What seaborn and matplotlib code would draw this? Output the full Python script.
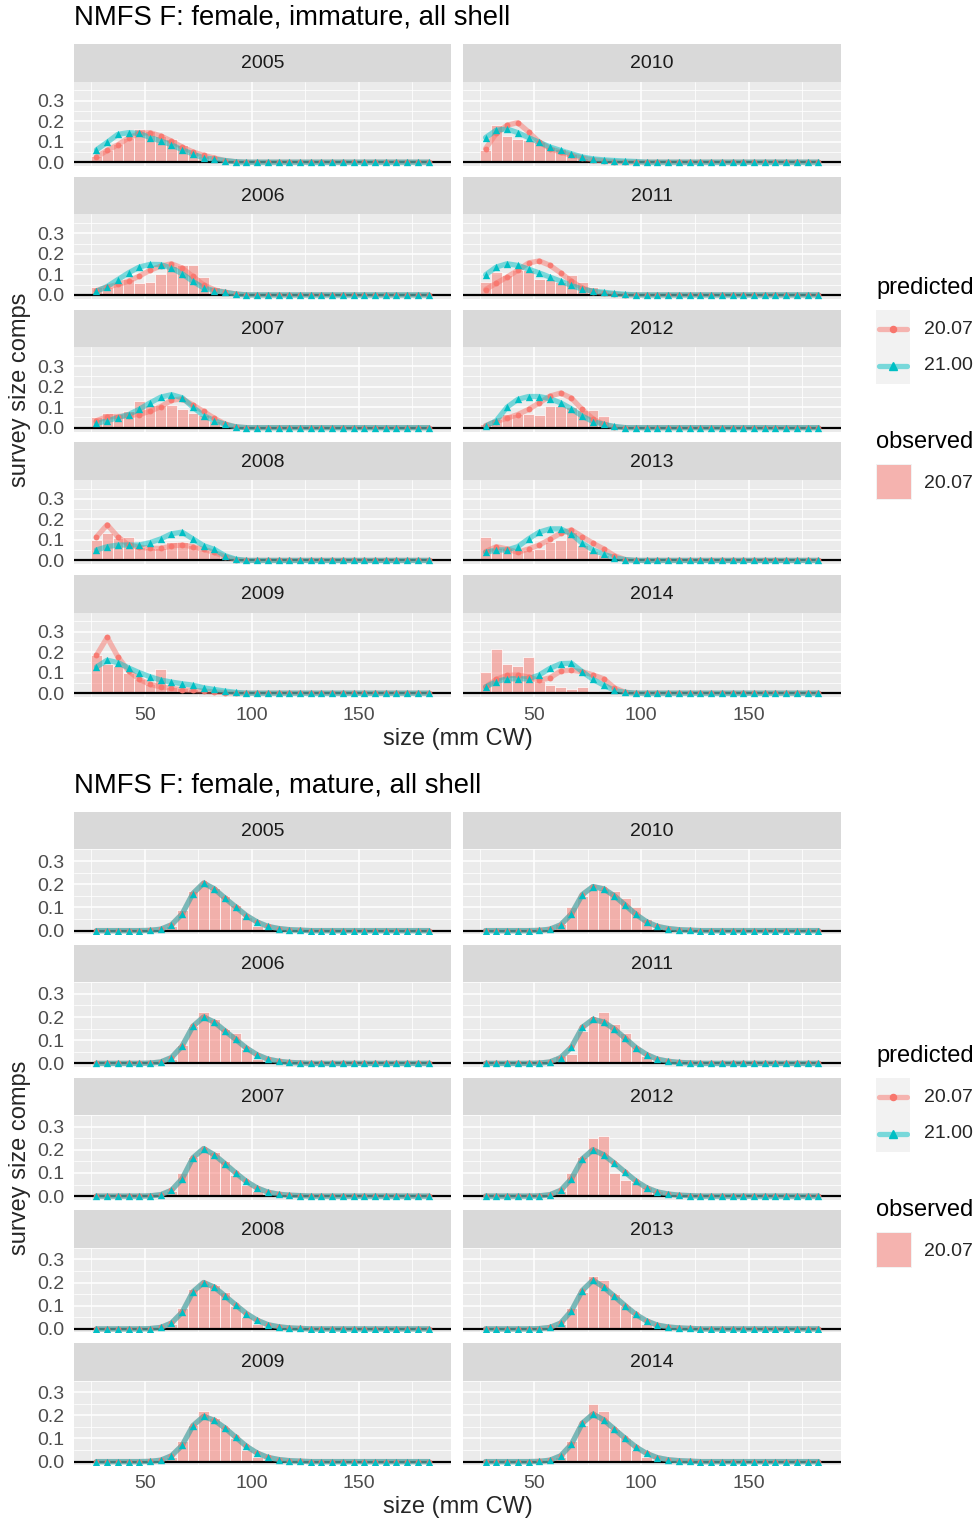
import numpy as np
import pandas as pd
import matplotlib
matplotlib.use("Agg")
import matplotlib.pyplot as plt
import seaborn as sns
from matplotlib.patches import Rectangle
from matplotlib.lines import Line2D

sns.set_theme(style="white")
plt.rcParams["font.family"] = ["Liberation Sans", "DejaVu Sans"]

# ---------------- data ----------------
sizes = [27.5, 32.5, 37.5, 42.5, 47.5, 52.5, 57.5, 62.5, 67.5, 72.5, 77.5, 82.5,
         87.5, 92.5, 97.5, 102.5, 107.5, 112.5, 117.5, 122.5, 127.5, 132.5, 137.5,
         142.5, 147.5, 152.5, 157.5, 162.5, 167.5, 172.5, 177.5, 182.5]
years_left = [2005, 2006, 2007, 2008, 2009]
years_right = [2010, 2011, 2012, 2013, 2014]
cases = ["20.07", "21.00"]
xticks = [50, 100, 150]
yticks = [0.0, 0.1, 0.2, 0.3]
ytick_labels = ["0.0", "0.1", "0.2", "0.3"]


def pad(v):
    return list(v) + [0.0] * (len(sizes) - len(v))


# immature: observed (20.07), predicted 20.07, predicted 21.00
imm_obs = {
    2005: pad([0.028, 0.06, 0.09, 0.12, 0.16, 0.153, 0.13, 0.115, 0.082, 0.05, 0.028, 0.016, 0.005]),
    2006: pad([0.04, 0.04, 0.06, 0.08, 0.06, 0.062, 0.103, 0.14, 0.144, 0.144, 0.087, 0.038, 0.012, 0.004]),
    2007: pad([0.054, 0.072, 0.067, 0.079, 0.128, 0.111, 0.111, 0.111, 0.089, 0.07, 0.06, 0.034, 0.01, 0.003]),
    2008: pad([0.1, 0.133, 0.108, 0.116, 0.067, 0.059, 0.059, 0.092, 0.092, 0.075, 0.05, 0.034, 0.015, 0.003]),
    2009: pad([0.185, 0.144, 0.133, 0.1, 0.067, 0.046, 0.116, 0.03, 0.025, 0.02, 0.01, 0.005]),
    2010: pad([0.057, 0.18, 0.128, 0.115, 0.107, 0.1, 0.074, 0.066, 0.04, 0.02, 0.01, 0.005]),
    2011: pad([0.062, 0.111, 0.095, 0.12, 0.12, 0.079, 0.079, 0.062, 0.095, 0.062, 0.041, 0.015, 0.005]),
    2012: pad([0.016, 0.043, 0.067, 0.067, 0.067, 0.064, 0.108, 0.108, 0.1, 0.084, 0.084, 0.059, 0.01, 0.003]),
    2013: pad([0.116, 0.059, 0.059, 0.051, 0.051, 0.056, 0.092, 0.1, 0.141, 0.075, 0.046, 0.025, 0.01, 0.003]),
    2014: pad([0.103, 0.218, 0.144, 0.133, 0.177, 0.059, 0.039, 0.03, 0.018, 0.03, 0.01, 0.003]),
}
imm_p2007 = {
    2005: pad([0.025, 0.057, 0.085, 0.118, 0.14, 0.144, 0.128, 0.103, 0.074, 0.05, 0.033, 0.02, 0.008, 0.002]),
    2006: pad([0.021, 0.038, 0.051, 0.067, 0.092, 0.12, 0.141, 0.152, 0.131, 0.09, 0.049, 0.025, 0.013, 0.005]),
    2007: pad([0.034, 0.054, 0.054, 0.059, 0.064, 0.08, 0.103, 0.133, 0.141, 0.111, 0.079, 0.046, 0.018, 0.004]),
    2008: pad([0.115, 0.174, 0.115, 0.075, 0.064, 0.059, 0.059, 0.07, 0.075, 0.067, 0.054, 0.039, 0.018, 0.004]),
    2009: pad([0.185, 0.272, 0.177, 0.108, 0.067, 0.043, 0.03, 0.023, 0.016, 0.013, 0.01, 0.006, 0.003]),
    2010: pad([0.066, 0.14, 0.18, 0.193, 0.148, 0.098, 0.066, 0.049, 0.033, 0.02, 0.011, 0.006, 0.002]),
    2011: pad([0.026, 0.057, 0.087, 0.12, 0.156, 0.166, 0.144, 0.107, 0.067, 0.034, 0.016, 0.008, 0.004]),
    2012: pad([0.01, 0.03, 0.046, 0.064, 0.089, 0.121, 0.154, 0.169, 0.144, 0.089, 0.043, 0.016, 0.004]),
    2013: pad([0.043, 0.067, 0.056, 0.039, 0.056, 0.075, 0.103, 0.133, 0.149, 0.116, 0.084, 0.056, 0.023, 0.004]),
    2014: pad([0.03, 0.067, 0.087, 0.089, 0.079, 0.062, 0.075, 0.108, 0.111, 0.105, 0.089, 0.07, 0.026, 0.004]),
}
imm_p2100 = {
    2005: pad([0.06, 0.097, 0.136, 0.144, 0.14, 0.12, 0.103, 0.085, 0.06, 0.04, 0.02, 0.015, 0.008, 0.002]),
    2006: pad([0.018, 0.041, 0.075, 0.108, 0.136, 0.149, 0.148, 0.131, 0.103, 0.066, 0.034, 0.021, 0.013, 0.004]),
    2007: pad([0.021, 0.033, 0.049, 0.064, 0.09, 0.121, 0.149, 0.161, 0.146, 0.1, 0.059, 0.034, 0.016, 0.004]),
    2008: pad([0.051, 0.067, 0.075, 0.075, 0.075, 0.087, 0.105, 0.13, 0.138, 0.105, 0.072, 0.054, 0.023, 0.006]),
    2009: pad([0.128, 0.161, 0.149, 0.123, 0.1, 0.08, 0.064, 0.054, 0.046, 0.039, 0.026, 0.018, 0.01, 0.004]),
    2010: pad([0.12, 0.156, 0.162, 0.144, 0.12, 0.097, 0.074, 0.057, 0.041, 0.025, 0.016, 0.011, 0.008, 0.005, 0.003]),
    2011: pad([0.098, 0.136, 0.152, 0.144, 0.126, 0.107, 0.087, 0.067, 0.046, 0.028, 0.018, 0.013, 0.007, 0.003]),
    2012: pad([0.007, 0.034, 0.1, 0.138, 0.152, 0.152, 0.141, 0.121, 0.092, 0.056, 0.03, 0.016, 0.006]),
    2013: pad([0.039, 0.051, 0.051, 0.067, 0.105, 0.138, 0.154, 0.154, 0.128, 0.084, 0.051, 0.03, 0.013, 0.004]),
    2014: pad([0.03, 0.056, 0.07, 0.07, 0.07, 0.089, 0.121, 0.144, 0.146, 0.105, 0.067, 0.039, 0.013, 0.004]),
}

# mature
mat_obs = {
    2005: pad([0, 0, 0, 0, 0, 0, 0.005, 0.02, 0.09, 0.17, 0.2, 0.185, 0.15, 0.11, 0.06, 0.02, 0.008, 0.003]),
    2006: pad([0, 0, 0, 0, 0, 0, 0.005, 0.02, 0.08, 0.16, 0.22, 0.19, 0.15, 0.13, 0.06, 0.02, 0.008, 0.003]),
    2007: pad([0, 0, 0, 0, 0, 0, 0.005, 0.02, 0.1, 0.17, 0.19, 0.19, 0.15, 0.09, 0.05, 0.02, 0.008, 0.003]),
    2008: pad([0, 0, 0, 0, 0, 0, 0.005, 0.02, 0.09, 0.17, 0.2, 0.19, 0.16, 0.1, 0.05, 0.02, 0.008, 0.003]),
    2009: pad([0, 0, 0, 0, 0, 0, 0.005, 0.02, 0.09, 0.16, 0.22, 0.19, 0.15, 0.1, 0.05, 0.02, 0.008, 0.003]),
    2010: pad([0, 0, 0, 0, 0, 0, 0.005, 0.03, 0.1, 0.15, 0.18, 0.18, 0.17, 0.14, 0.1, 0.05, 0.01, 0.003]),
    2011: pad([0, 0, 0, 0, 0, 0, 0.005, 0.03, 0.04, 0.14, 0.19, 0.22, 0.17, 0.13, 0.07, 0.03, 0.01, 0.003]),
    2012: pad([0, 0, 0, 0, 0, 0, 0.005, 0.02, 0.1, 0.17, 0.25, 0.26, 0.1, 0.07, 0.06, 0.04, 0.02, 0.005]),
    2013: pad([0, 0, 0, 0, 0, 0, 0.005, 0.02, 0.09, 0.16, 0.23, 0.21, 0.15, 0.1, 0.06, 0.02, 0.008, 0.003]),
    2014: pad([0, 0, 0, 0, 0, 0, 0.005, 0.02, 0.09, 0.16, 0.25, 0.22, 0.14, 0.1, 0.05, 0.02, 0.008, 0.003]),
}
mat_p2007 = {
    2005: pad([0, 0, 0, 0, 0, 0.001, 0.006, 0.025, 0.072, 0.16, 0.205, 0.18, 0.14, 0.102, 0.065, 0.037, 0.018, 0.009, 0.004, 0.002]),
    2006: pad([0, 0, 0, 0, 0, 0.001, 0.006, 0.025, 0.075, 0.16, 0.2, 0.178, 0.14, 0.103, 0.066, 0.037, 0.018, 0.009, 0.004, 0.002]),
    2007: pad([0, 0, 0, 0, 0, 0.001, 0.006, 0.025, 0.075, 0.165, 0.205, 0.178, 0.14, 0.1, 0.063, 0.035, 0.017, 0.008, 0.004, 0.002]),
    2008: pad([0, 0, 0, 0, 0, 0.001, 0.006, 0.025, 0.072, 0.16, 0.2, 0.18, 0.142, 0.103, 0.066, 0.037, 0.018, 0.009, 0.004, 0.002]),
    2009: pad([0, 0, 0, 0, 0, 0.001, 0.006, 0.025, 0.07, 0.155, 0.195, 0.178, 0.145, 0.105, 0.066, 0.037, 0.018, 0.009, 0.004, 0.002]),
    2010: pad([0, 0, 0, 0, 0, 0.001, 0.006, 0.025, 0.072, 0.155, 0.19, 0.18, 0.15, 0.11, 0.07, 0.038, 0.018, 0.009, 0.004, 0.002]),
    2011: pad([0, 0, 0, 0, 0, 0.001, 0.006, 0.025, 0.07, 0.155, 0.19, 0.178, 0.148, 0.108, 0.068, 0.038, 0.018, 0.009, 0.004, 0.002]),
    2012: pad([0, 0, 0, 0, 0, 0.001, 0.006, 0.025, 0.075, 0.16, 0.2, 0.178, 0.142, 0.103, 0.065, 0.036, 0.018, 0.009, 0.004, 0.002]),
    2013: pad([0, 0, 0, 0, 0, 0.001, 0.006, 0.025, 0.078, 0.165, 0.21, 0.18, 0.14, 0.1, 0.062, 0.034, 0.016, 0.008, 0.004, 0.002]),
    2014: pad([0, 0, 0, 0, 0, 0.001, 0.006, 0.025, 0.075, 0.165, 0.205, 0.18, 0.14, 0.1, 0.063, 0.035, 0.017, 0.008, 0.004, 0.002]),
}
mat_p2100 = {y: list(v) for y, v in mat_p2007.items()}

# ---------------- styling ----------------
W, H = 977, 1521
RED = "#F8766D"
TEAL = "#00BFC4"
PANEL_BG = "#EBEBEB"
STRIP_BG = "#D9D9D9"
FS_SMALL = 14
FS_AXIS = 17
FS_TITLE = 19.8
edges = [s - 2.5 for s in sizes] + [sizes[-1] + 2.5]

fig = plt.figure(figsize=(W / 100, H / 100), dpi=100)


def px_axes(x0, y0, x1, y1):
    return fig.add_axes([x0 / W, 1 - y1 / H, (x1 - x0) / W, (y1 - y0) / H])


def draw_panel(ax, obs, p1, p2, ylim, show_x, show_y):
    ax.set_facecolor(PANEL_BG)
    sns.histplot(x=sizes, weights=obs, bins=edges, color=RED, alpha=0.5,
                 edgecolor="white", linewidth=0.5, ax=ax, zorder=2)
    ax.axhline(0, color="black", lw=1.6, zorder=3)
    df = pd.DataFrame({"size": sizes * 2, "val": list(p1) + list(p2),
                       "case": [cases[0]] * len(sizes) + [cases[1]] * len(sizes)})
    sns.lineplot(data=df, x="size", y="val", hue="case", hue_order=cases,
                 palette=[RED, TEAL], linewidth=3.8, alpha=0.5, legend=False,
                 ax=ax, zorder=4)
    sns.scatterplot(x=sizes, y=p1, color=RED, marker="o", s=18, linewidth=0,
                    alpha=0.9, ax=ax, zorder=5)
    sns.scatterplot(x=sizes, y=p2, color=TEAL, marker="^", s=28, linewidth=0,
                    ax=ax, zorder=6)
    ax.set_xlim(17, 193)
    ax.set_ylim(*ylim)
    ax.set_xticks(xticks)
    ax.set_xticks([25, 75, 125, 175], minor=True)
    ax.set_yticks(yticks)
    ax.set_yticks([0.05, 0.15, 0.25, 0.35], minor=True)
    ax.grid(which="major", color="white", lw=1.1, zorder=0)
    ax.grid(which="minor", color="white", lw=0.55, zorder=0)
    ax.set_axisbelow(True)
    for sp in ax.spines.values():
        sp.set_visible(False)
    ax.set_xlabel("")
    ax.set_ylabel("")
    ax.tick_params(which="minor", length=0)
    ax.tick_params(which="major", length=4, width=0.8, color="#333333",
                   labelcolor="#4D4D4D", labelsize=FS_SMALL, pad=3)
    if show_x:
        ax.set_xticklabels([str(t) for t in xticks])
    else:
        ax.tick_params(axis="x", which="major", length=0, labelbottom=False)
    if show_y:
        ax.set_yticklabels(ytick_labels)
    else:
        ax.tick_params(axis="y", which="major", length=0, labelleft=False)


def draw_strip(x0, y0, x1, y1, label):
    sa = px_axes(x0, y0, x1, y1)
    sa.set_facecolor(STRIP_BG)
    sa.set_xticks([])
    sa.set_yticks([])
    for sp in sa.spines.values():
        sp.set_visible(False)
    sa.text(0.5, 0.47, label, ha="center", va="center", fontsize=FS_SMALL,
            color="#1A1A1A", transform=sa.transAxes)


def draw_legend(top):
    fig.text(876 / W, 1 - (top) / H, "predicted", fontsize=FS_AXIS, ha="left",
             va="center", color="black")
    la = px_axes(876, top + 22, 910, top + 96)
    la.set_xlim(0, 1)
    la.set_ylim(0, 1)
    la.axis("off")
    la.add_patch(Rectangle((0, 0), 1, 1, facecolor="#F2F2F2", edgecolor="none",
                           transform=la.transAxes))
    la.add_line(Line2D([0.08, 0.92], [0.75, 0.75], color=RED, lw=3.8, alpha=0.5))
    la.add_line(Line2D([0.5], [0.75], color=RED, marker="o", ms=4.4, lw=0))
    la.add_line(Line2D([0.08, 0.92], [0.25, 0.25], color=TEAL, lw=3.8, alpha=0.5))
    la.add_line(Line2D([0.5], [0.25], color=TEAL, marker="^", ms=5.6, lw=0))
    fig.text(924 / W, 1 - (top + 41) / H, "20.07", fontsize=FS_SMALL, ha="left", va="center")
    fig.text(924 / W, 1 - (top + 78) / H, "21.00", fontsize=FS_SMALL, ha="left", va="center")
    fig.text(876 / W, 1 - (top + 154) / H, "observed", fontsize=FS_AXIS, ha="left",
             va="center", color="black")
    lb = px_axes(876, top + 176, 912, top + 212)
    lb.axis("off")
    lb.add_patch(Rectangle((0, 0), 1, 1, facecolor="#F2F2F2", edgecolor="none",
                           transform=lb.transAxes))
    lb.add_patch(Rectangle((0.04, 0.04), 0.92, 0.92, facecolor=RED, alpha=0.5,
                           edgecolor="none", transform=lb.transAxes))
    fig.text(924 / W, 1 - (top + 195) / H, "20.07", fontsize=FS_SMALL, ha="left", va="center")


def draw_block(y_off, title, obs, p1, p2, ylim):
    fig.text(74 / W, 1 - (y_off + 18) / H, title, fontsize=FS_TITLE, ha="left",
             va="center", color="black")
    pitch = 132.75
    cols = [(74, 451, years_left), (463, 841, years_right)]
    for ci, (x0, x1, yrs) in enumerate(cols):
        for ri, yr in enumerate(yrs):
            st = y_off + 44 + ri * pitch
            draw_strip(x0, st, x1, st + 37.5, str(yr))
            ax = px_axes(x0, st + 37.5, x1, st + 122)
            draw_panel(ax, obs[yr], p1[yr], p2[yr], ylim,
                       show_x=(ri == len(yrs) - 1), show_y=(ci == 0))
    fig.text(457.5 / W, 1 - (y_off + 739) / H, "size (mm CW)", fontsize=FS_AXIS,
             ha="center", va="center")
    fig.text(20 / W, 1 - (y_off + 390) / H, "survey size comps", fontsize=FS_AXIS,
             ha="center", va="center", rotation=90)
    draw_legend(y_off + 288)


draw_block(0, "NMFS F: female, immature, all shell", imm_obs, imm_p2007, imm_p2100,
           (-0.0188, 0.3938))
draw_block(768, "NMFS F: female, mature, all shell", mat_obs, mat_p2007, mat_p2100,
           (-0.0147, 0.308))

fig.savefig("out.png", dpi=100)
